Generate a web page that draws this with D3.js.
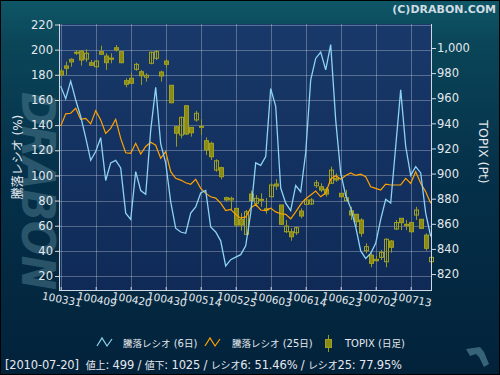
<!DOCTYPE html>
<html>
<head>
<meta charset="utf-8">
<title>騰落レシオ</title>
<script src="https://cdnjs.cloudflare.com/ajax/libs/d3/7.8.5/d3.min.js"></script>
<style>
  body { margin: 0; padding: 0; background: #021f30; }
  svg { display: block; font-family: "DejaVu Sans", "Noto Sans CJK JP", sans-serif; }
</style>
</head>
<body>
<div id="chart"></div>
<script>
// trading days 2010-03-31 .. 2010-07-20
const dates = [
  "100331",
  "100401","100402","100405","100406","100407","100408","100409","100412","100413","100414",
  "100415","100416","100419","100420","100421","100422","100423","100426","100427","100428","100430",
  "100506","100507","100510","100511","100512","100513","100514","100517","100518","100519",
  "100520","100521","100524","100525","100526","100527","100528","100531",
  "100601","100602","100603","100604","100607","100608","100609","100610","100611","100614",
  "100615","100616","100617","100618","100621","100622","100623","100624","100625","100628","100629","100630",
  "100701","100702","100705","100706","100707","100708","100709","100712","100713","100714",
  "100715","100716","100720"
];

const xTickLabels = ["100331","100409","100420","100430","100514","100525","100603","100614","100623","100702","100713"];
const leftTicks = [20, 40, 60, 80, 100, 120, 140, 160, 180, 200, 220];
const rightTicks = [820, 840, 860, 880, 900, 920, 940, 960, 980, 1000];

// 騰落レシオ (6日)
const ratio6 = [171,161,175,160,147,130,112,119,130,96,110,112,106,70,65,103,88,85,136,170,
  125,110,79,58,55,54,70,75,86,88,59,55,48,28,33,35,37,44,70,110,
  108,115,169,155,90,78,72,92,87,118,176,193,198,184,204,144,102,84,74,59,
  40,34,38,46,65,81,78,123,168,123,100,107,102,70,51.46];

// 騰落レシオ (25日)
const ratio25 = [139.3,149,149.4,153.4,144.6,145.4,141,151.5,144,133.4,137.4,144.6,129.5,118,117.6,125.5,117,123,126.3,124,
  113.6,119,103,97.7,96.3,94.2,93,96.9,89.7,85.7,83,82,78,72,73,69,66,67,74,77,
  72.5,72,74,71,69.5,69,65.5,71,77,81.5,84.5,87.5,83,86,97,100,97,100,102,100,
  101,99,91,89.7,88.4,93,92.4,92.4,92.4,97.7,93.7,103,93.7,87,77.95];

// TOPIX (日足)
const topixOpen = [981.7,985.7,991.0,995.8,997.6,991.2,988.3,985.1,997.1,993.6,992.0,1000.2,997.1,974.0,975.9,983.0,981.1,976.7,987.8,991.8,
  980.9,989.6,970.3,937.3,930.7,954.0,936.8,942.7,937.0,926.2,924.1,902.8,904.7,880.8,879.0,872.3,863.6,851.6,883.7,876.3,
  879.5,872.0,881.6,891.7,875.0,853.7,853.7,852.9,870.2,875.5,875.8,890.3,889.5,887.5,892.3,896.2,884.3,878.4,870.4,867.6,
  863.0,838.6,835.1,831.7,833.3,829.8,846.3,855.9,864.4,859.6,861.0,867.0,863.6,851.0,829.8];
const topixHigh = [983.8,989.1,991.8,998.4,998.4,999.0,990.4,990.4,1001.8,995.8,995.8,1002.4,997.6,975.9,980.3,988.3,982.5,979.9,997.1,998.4,
  981.9,991.2,970.5,937.9,945.3,954.6,936.8,950.0,943.2,928.9,925.4,911.4,905.5,881.6,881.6,872.3,868.4,871.0,886.4,882.9,
  884.3,880.5,892.3,895.5,875.0,863.0,856.4,857.7,872.3,880.3,880.5,894.9,892.3,889.1,905.5,900.2,884.3,887.0,873.6,867.6,
  864.4,844.5,836.5,834.4,839.2,848.5,847.1,863.0,864.4,863.0,861.7,873.6,863.6,852.4,836.5];
const topixLow = [977.1,978.5,985.1,994.4,985.9,988.9,985.7,983.8,994.4,982.5,987.8,997.1,987.8,968.7,971.3,981.9,970.5,973.2,987.0,990.4,
  973.2,984.3,956.0,921.4,928.1,930.7,929.4,941.3,930.7,914.8,910.8,901.5,895.4,877.6,871.0,857.7,854.5,851.0,876.3,873.6,
  873.6,868.0,881.1,887.0,859.0,852.7,846.5,851.1,864.4,875.0,875.0,888.5,885.3,881.6,891.7,893.5,880.8,878.0,863.0,857.7,
  849.7,836.5,825.4,829.8,831.2,825.4,837.0,855.0,855.0,855.0,852.9,863.0,855.9,838.6,828.5];
const topixClose = [978.5,983.8,988.9,996.6,990.4,995.8,986.2,989.6,995.0,988.3,991.0,998.4,988.3,971.1,971.9,987.0,977.9,978.3,996.6,997.1,
  977.7,987.0,956.4,932.1,944.8,931.5,932.5,948.0,937.6,918.8,913.4,910.2,897.5,879.0,880.3,859.0,859.0,869.6,878.4,880.3,
  878.7,871.0,890.9,890.1,859.6,858.2,849.7,856.9,866.2,879.0,879.0,892.7,886.9,883.7,902.8,894.9,881.6,880.8,867.0,861.7,
  852.5,841.8,828.5,830.6,837.3,847.7,841.3,861.0,860.9,858.5,853.7,871.0,856.4,840.5,833.3];

const statusText = "[2010-07-20]  値上: 499 / 値下: 1025 / レシオ6: 51.46% / レシオ25: 77.95%";

const W = 500, H = 375;
const plot = { left: 59, right: 432, top: 24, bottom: 290 };
const textColor = "#e4e8ee";

const svg = d3.select("#chart").append("svg")
  .attr("width", W).attr("height", H);

// write text where CJK runs get a smaller size than latin runs
function mixedText(sel, str, latinSize, cjkSize) {
  const runs = str.match(/[\u3000-\u9fff]+|[^\u3000-\u9fff]+/g);
  runs.forEach(r => {
    const cjk = /[\u3000-\u9fff]/.test(r);
    sel.append("tspan").attr("font-size", cjk ? cjkSize : latinSize).text(r);
  });
  return sel;
}

const defs = svg.append("defs");
const bg = defs.append("linearGradient").attr("id", "bg")
  .attr("x1", 0).attr("y1", 0).attr("x2", 0).attr("y2", 1);
bg.append("stop").attr("offset", "0%").attr("stop-color", "#0e5767");
bg.append("stop").attr("offset", "12%").attr("stop-color", "#0a4558");
bg.append("stop").attr("offset", "45%").attr("stop-color", "#05314a");
bg.append("stop").attr("offset", "100%").attr("stop-color", "#02223a");

const pbg = defs.append("linearGradient").attr("id", "pbg")
  .attr("x1", 0).attr("y1", 0).attr("x2", 0).attr("y2", 1);
pbg.append("stop").attr("offset", "0%").attr("stop-color", "#18396a");
pbg.append("stop").attr("offset", "100%").attr("stop-color", "#0f2a57");

svg.append("rect").attr("width", W).attr("height", H).attr("fill", "url(#bg)");

// watermark
svg.append("text")
  .attr("transform", "translate(22,92) rotate(90)")
  .attr("font-size", 46).attr("font-weight", "bold").attr("font-style", "italic")
  .attr("fill", "#4f7d90").attr("opacity", 0.5)
  .attr("textLength", 198).attr("lengthAdjust", "spacingAndGlyphs")
  .text("DRABON");

// scales
const x = d3.scalePoint().domain(dates).range([60.7, 430.7]);
const yL = d3.scaleLinear().domain([8.9, 220.4]).range([plot.bottom, plot.top]);
const yR = d3.scaleLinear().domain([807.3, 1019.1]).range([plot.bottom, plot.top]);

svg.append("rect")
  .attr("x", plot.left).attr("y", plot.top)
  .attr("width", plot.right - plot.left).attr("height", plot.bottom - plot.top)
  .attr("fill", "url(#pbg)");

// grid
const grid = svg.append("g").attr("stroke", "#ffffff").attr("stroke-opacity", 0.28).attr("stroke-width", 1);
grid.selectAll(".h").data(leftTicks).join("line")
  .attr("x1", plot.left).attr("x2", plot.right)
  .attr("y1", d => Math.round(yL(d)) + 0.5).attr("y2", d => Math.round(yL(d)) + 0.5);
grid.selectAll(".v").data(xTickLabels).join("line")
  .attr("x1", d => Math.round(x(d)) + 0.5).attr("x2", d => Math.round(x(d)) + 0.5)
  .attr("y1", plot.top).attr("y2", plot.bottom);

// candles
const candles = dates.map((d, i) => ({
  d, o: topixOpen[i], h: topixHigh[i], l: topixLow[i], c: topixClose[i]
}));
const candleColor = "#9a9a1c";
const cg = svg.append("g");
cg.selectAll(".wick").data(candles).join("line")
  .attr("x1", d => Math.round(x(d.d)) + 0.5).attr("x2", d => Math.round(x(d.d)) + 0.5)
  .attr("y1", d => yR(d.h)).attr("y2", d => yR(d.l))
  .attr("stroke", candleColor).attr("stroke-width", 1);
cg.selectAll(".body").data(candles).join("rect")
  .attr("x", d => Math.round(x(d.d)) - 1.5)
  .attr("y", d => yR(Math.max(d.o, d.c)))
  .attr("width", 4)
  .attr("height", d => Math.max(1, Math.abs(yR(d.o) - yR(d.c))))
  .attr("fill", d => d.c < d.o ? "#8a8a16" : "none")
  .attr("stroke", "#a0a024").attr("stroke-width", 1);

// lines
const ratioLine = d3.line().x((d, i) => x(dates[i])).y(d => yL(d));
svg.append("path").datum(ratio25)
  .attr("d", ratioLine).attr("fill", "none")
  .attr("stroke", "#ffa200").attr("stroke-width", 1.2);
svg.append("path").datum(ratio6)
  .attr("d", ratioLine).attr("fill", "none")
  .attr("stroke", "#8ed3f2").attr("stroke-width", 1.3);

// axes
const axisColor = "#d0d8e4";
const leftAxis = svg.append("g")
  .attr("transform", `translate(${plot.left},0)`)
  .call(d3.axisLeft(yL).tickValues(leftTicks).tickSize(4).tickPadding(2));
const rightAxis = svg.append("g")
  .attr("transform", `translate(${plot.right},0)`)
  .call(d3.axisRight(yR).tickValues(rightTicks).tickSize(4).tickPadding(1).tickFormat(d3.format(",")));
const bottomAxis = svg.append("g")
  .attr("transform", `translate(0,${plot.bottom})`)
  .call(d3.axisBottom(x).tickValues(xTickLabels).tickSize(3).tickSizeOuter(0));

[leftAxis, rightAxis, bottomAxis].forEach(g => {
  g.selectAll("path").attr("stroke", axisColor).attr("stroke-width", 1);
  g.selectAll("line").attr("stroke", axisColor);
  g.selectAll("text").attr("fill", textColor).attr("font-family", "DejaVu Sans, sans-serif");
});
leftAxis.select(".domain").attr("d", `M0.5,${plot.top}V${plot.bottom}`);
rightAxis.select(".domain").attr("d", `M-0.5,${plot.top}V${plot.bottom}`);
bottomAxis.select(".domain").attr("d", `M${plot.left},0.5H${plot.right}`);
leftAxis.selectAll("text").attr("font-size", 11.5);
rightAxis.selectAll("text").attr("font-size", 11.5);
bottomAxis.selectAll("line").attr("y1", -3).attr("y2", 0);
bottomAxis.selectAll("text")
  .attr("font-size", 10.5)
  .attr("text-anchor", "middle")
  .attr("y", 0).attr("dy", 0)
  .attr("transform", "translate(0,13) rotate(11)");

// axis titles
mixedText(svg.append("text")
  .attr("transform", `translate(22,${(plot.top + plot.bottom) / 2}) rotate(-90)`)
  .attr("text-anchor", "middle").attr("fill", textColor), "騰落レシオ (%)", 12, 12);
svg.append("text")
  .attr("transform", `translate(479,152) rotate(90)`)
  .attr("text-anchor", "middle").attr("font-size", 12.5).attr("fill", textColor)
  .text("TOPIX (Pt)");

// copyright
svg.append("text")
  .attr("x", 496).attr("y", 13).attr("text-anchor", "end")
  .attr("font-size", 11).attr("font-weight", "bold").attr("fill", "#cfdce2")
  .text("(C)DRABON.COM");

// legend
const lg = svg.append("g").attr("fill", textColor);
const zig = d3.line();
lg.append("path").attr("d", zig([[97, 346], [102, 338], [107, 346], [112, 339]]))
  .attr("fill", "none").attr("stroke", "#8ed3f2").attr("stroke-width", 1.2);
mixedText(lg.append("text").attr("x", 123).attr("y", 347), "騰落レシオ (6日)", 10, 9.5);
lg.append("path").attr("d", zig([[205, 346], [210, 338], [215, 346], [220, 339]]))
  .attr("fill", "none").attr("stroke", "#ffa200").attr("stroke-width", 1.2);
mixedText(lg.append("text").attr("x", 232).attr("y", 347), "騰落レシオ (25日)", 10, 9.5);
lg.append("line").attr("x1", 328.5).attr("x2", 328.5).attr("y1", 335).attr("y2", 352)
  .attr("stroke", candleColor);
lg.append("rect").attr("x", 325.5).attr("y", 339.5).attr("width", 6).attr("height", 8)
  .attr("fill", "#8a8a16").attr("stroke", "#a0a024");
mixedText(lg.append("text").attr("x", 345).attr("y", 347), "TOPIX (日足)", 10, 9.5);

// status line
mixedText(svg.append("text")
  .attr("x", 5).attr("y", 369).attr("fill", textColor)
  .attr("textLength", 397).attr("lengthAdjust", "spacing")
  .style("white-space", "pre"), statusText, 11.5, 10);

// logo mark bottom right
svg.append("path")
  .attr("d", "M466,349 L480,347 L484,352 L489,364 L484,367 L479,357 L476,354 L470,356 Z")
  .attr("fill", "#4d7f93").attr("opacity", 0.7);

// frame
svg.append("rect").attr("x", 0.5).attr("y", 0.5).attr("width", W - 1).attr("height", H - 1)
  .attr("fill", "none").attr("stroke", "#000").attr("stroke-width", 1);
</script>
</body>
</html>
